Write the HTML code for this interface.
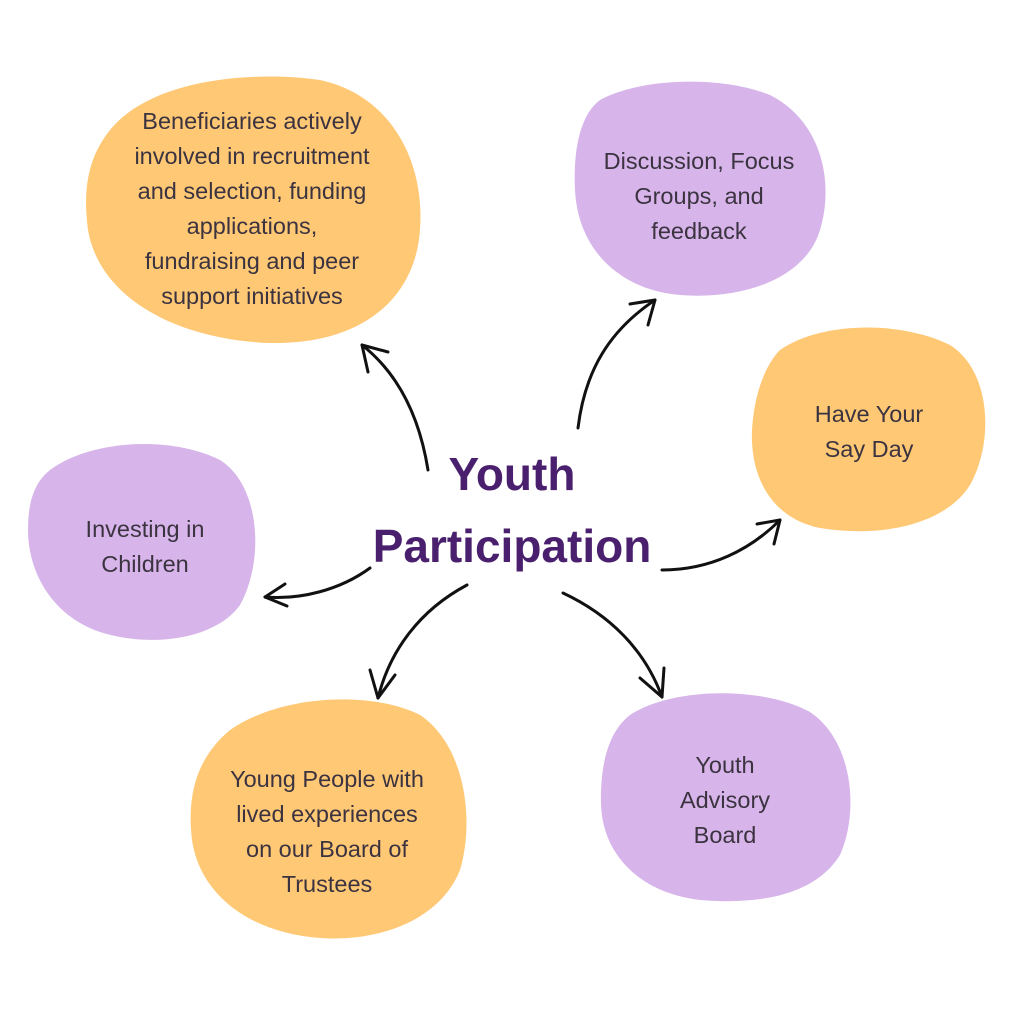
<!DOCTYPE html>
<html><head><meta charset="utf-8"><style>
html,body{margin:0;padding:0;background:#fff;}
svg{display:block}
text{font-family:"Liberation Sans",sans-serif;fill:#3b3340;font-size:23.5px;text-anchor:middle}
.t{font-weight:bold;fill:#4a206e;font-size:46px}
</style></head><body>
<svg width="1024" height="1024" viewBox="0 0 1024 1024">
<rect width="1024" height="1024" fill="#fff"/>
<g>
<path d="M110,130 C150,80 250,70 320,80 C390,95 425,160 420,230 C415,300 360,345 270,343 C180,340 100,300 88,230 C82,185 90,155 110,130Z" fill="#FFC875"/>
<path d="M600,100 C640,78 720,75 770,95 C820,120 835,180 820,230 C805,280 740,300 680,295 C620,290 578,250 575,190 C573,150 580,115 600,100Z" fill="#D7B5EA"/>
<path d="M780,350 C820,322 900,320 950,345 C990,370 995,440 970,485 C945,525 880,538 820,528 C770,518 750,475 752,430 C754,395 765,365 780,350Z" fill="#FFC875"/>
<path d="M50,470 C90,440 170,435 220,460 C260,485 265,560 240,605 C215,640 150,648 100,632 C50,615 28,570 28,530 C28,500 35,482 50,470Z" fill="#D7B5EA"/>
<path d="M230,730 C280,695 370,690 420,715 C465,745 475,820 460,870 C440,920 380,942 320,938 C250,933 200,895 192,840 C186,790 200,755 230,730Z" fill="#FFC875"/>
<path d="M630,715 C670,688 760,685 810,712 C852,740 860,810 840,855 C815,895 760,905 700,900 C640,893 603,855 601,805 C600,765 608,732 630,715Z" fill="#D7B5EA"/>
</g>
<g fill="none" stroke="#111" stroke-width="3" stroke-linecap="round">
<path d="M428,470 C420,420 400,375 362,345"/><path d="M362,345 L388,352 M362,345 L368,372"/>
<path d="M578,428 C585,370 610,330 655,300"/><path d="M655,300 L630,304 M655,300 L648,325"/>
<path d="M662,570 C710,570 750,550 780,520"/><path d="M780,520 L757,524 M780,520 L774,544"/>
<path d="M370,568 C340,590 300,600 265,597"/><path d="M265,597 L285,584 M265,597 L287,606"/>
<path d="M467,585 C420,610 390,650 378,698"/><path d="M378,698 L370,670 M378,698 L395,675"/>
<path d="M563,593 C610,615 645,650 662,697"/><path d="M662,697 L640,678 M662,697 L664,668"/>
</g>
<text x="252" y="129">Beneficiaries actively</text>
<text x="252" y="164">involved in recruitment</text>
<text x="252" y="199">and selection, funding</text>
<text x="252" y="234">applications,</text>
<text x="252" y="269">fundraising and peer</text>
<text x="252" y="304">support initiatives</text>
<text x="699" y="169">Discussion, Focus</text>
<text x="699" y="204">Groups, and</text>
<text x="699" y="239">feedback</text>
<text x="869" y="422">Have Your</text>
<text x="869" y="457">Say Day</text>
<text x="145" y="537">Investing in</text>
<text x="145" y="572">Children</text>
<text x="327" y="787">Young People with</text>
<text x="327" y="822">lived experiences</text>
<text x="327" y="857">on our Board of</text>
<text x="327" y="892">Trustees</text>
<text x="725" y="773">Youth</text>
<text x="725" y="808">Advisory</text>
<text x="725" y="843">Board</text>
<text class="t" x="512" y="490">Youth</text>
<text class="t" x="512" y="562">Participation</text>
</svg>
</body></html>
